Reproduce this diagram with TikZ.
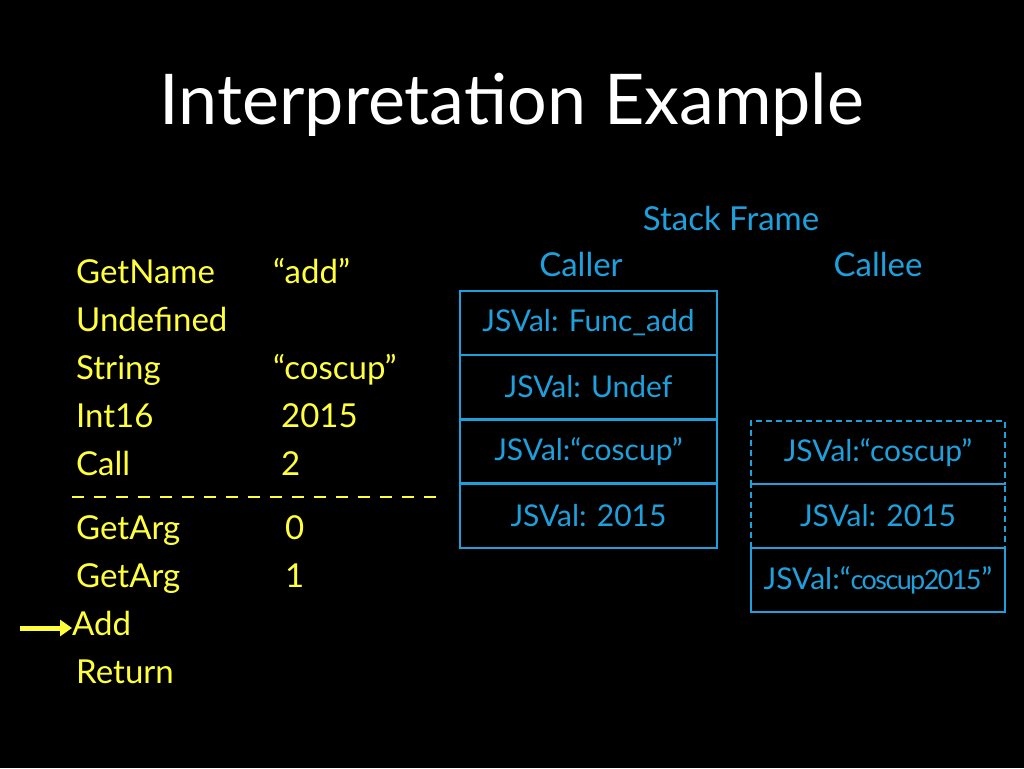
\documentclass[tikz,border=0pt]{standalone}
\usepackage{fontspec}
\usetikzlibrary{arrows.meta}
\setmainfont{Lato}
\begin{document}
\begin{tikzpicture}[x=1pt,y=-1pt,
  yl/.style={text=codey,anchor=base west,inner sep=0pt,font=\fontsize{33}{38}\selectfont},
  bl/.style={text=boxb,anchor=base,inner sep=0pt,font=\fontsize{33}{38}\selectfont},
  cell/.style={draw=boxb,line width=2.5pt,text=boxb,font=\fontsize{30}{34}\selectfont},
  dcell/.style={cell,dash pattern=on 6pt off 4pt}]
\definecolor{codey}{RGB}{255,255,60}
\definecolor{boxb}{RGB}{30,160,220}
\fill[black] (0,0) rectangle (1024,768);
\useasboundingbox (0,0) rectangle (1024,768);
\node[anchor=base,text=white,inner sep=0pt,font=\fontsize{70}{82}\selectfont] (title) at (512,124) {Interpretation Example};
\node[yl] (l1) at (76,283) {GetName}; \node[yl] (v1) at (273,283) {“add”};
\node[yl] (l2) at (76,331) {Undefined};
\node[yl] (l3) at (76,379) {String}; \node[yl] (v3) at (273,379) {“coscup”};
\node[yl] (l4) at (76,427) {Int16}; \node[yl] (v4) at (281,427) {2015};
\node[yl] (l5) at (76,475) {Call}; \node[yl] (v5) at (281,475) {2};
\coordinate (dl) at (72,497); \coordinate (dr) at (440,497);
\draw[codey,line width=2pt,dash pattern=on 12pt off 10pt] (dl) -- (dr);
\node[yl] (l6) at (76,539) {GetArg}; \node[yl] (v6) at (285,539) {0};
\node[yl] (l7) at (76,587) {GetArg}; \node[yl] (v7) at (285,587) {1};
\node[yl] (l8) at (72,635) {Add};
\node[yl] (l9) at (76,683) {Return};
\coordinate (as) at (20,628);
\draw[codey,line width=5pt,-{Triangle[length=12pt,width=16pt]}] (as) -- (as -| l8.west);
\node[bl] (sf) at (731,230) {Stack Frame};
\node[bl] (caller) at (581,276) {Caller};
\node[bl] (callee) at (878,276) {Callee};
\node[cell,minimum width=257pt,minimum height=64pt] (c1) at (588.5,323) {JSVal: Func\_add};
\node[cell,minimum width=257pt,minimum height=64pt] (c2) at (588.5,387) {JSVal: Undef};
\node[cell,minimum width=257pt,minimum height=64pt] (c3) at (588.5,451.5) {JSVal:“coscup”};
\node[cell,minimum width=257pt,minimum height=64pt] (c4) at (588.5,516) {JSVal: 2015};
\node[dcell,minimum width=254pt,minimum height=63pt] (e1) at (878,452.5) {JSVal:“coscup”};
\node[dcell,minimum width=254pt,minimum height=64pt] (e2) at (878,516) {JSVal: 2015};
\node[cell,minimum width=254pt,minimum height=64pt,inner sep=1pt] (e3) at (878,580) {JSVal:“{\fontsize{27}{30}\selectfont\addfontfeature{LetterSpace=-6}coscup2015}”};
\end{tikzpicture}
\end{document}
